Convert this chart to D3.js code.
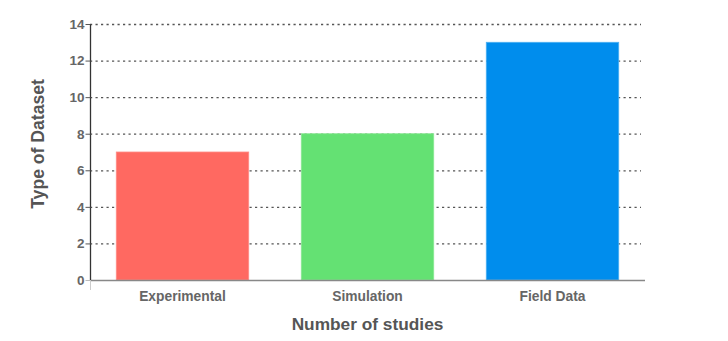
<!DOCTYPE html>
<html><head><meta charset="utf-8">
<script src="https://cdn.jsdelivr.net/npm/d3@7"></script>
<style>body{margin:0;background:#fff}svg{display:block}</style>
</head><body>
<svg id="c" width="728" height="341"></svg>
<script>
const categories = ["Experimental", "Simulation", "Field Data"];
const values = [7, 8, 13];
const colors = ["#ff6961", "#64e173", "#008ded"];
const strokes = ["#ff8c86", "#8be894", "#4cb0f2"];
const yTicks = [0, 2, 4, 6, 8, 10, 12, 14];

const svg = d3.select("#c");
const m = {left: 90, right: 83, top: 24, bottom: 61};
const W = 728, H = 341;
const FONT = "Liberation Sans, Arial, sans-serif";
const x = d3.scaleBand().domain(categories).range([m.left, W - m.right]).paddingInner(0.284).paddingOuter(0.142);
const y = d3.scaleLinear().domain([0, 14]).range([H - m.bottom, m.top]);

// gridlines
svg.append("g").selectAll("line").data(yTicks.filter(d => d > 0)).join("line")
  .attr("x1", m.left).attr("x2", W - m.right - 4)
  .attr("y1", d => y(d) + 0.5).attr("y2", d => y(d) + 0.5)
  .attr("stroke", "#555").attr("stroke-width", 1.3).attr("stroke-dasharray", "2.2,3.3");

// bars
svg.append("g").selectAll("rect").data(values).join("rect")
  .attr("x", (d, i) => x(categories[i]))
  .attr("y", d => y(d))
  .attr("width", x.bandwidth())
  .attr("height", d => y(0) - y(d))
  .attr("fill", (d, i) => colors[i])
  .attr("stroke", (d, i) => strokes[i]).attr("stroke-width", 0.8);

// x axis line
svg.append("line").attr("x1", m.left).attr("x2", W - m.right)
  .attr("y1", y(0) + 0.5).attr("y2", y(0) + 0.5)
  .attr("stroke", "#888").attr("stroke-width", 1.6);
svg.append("line").attr("x1", m.left + 0.5).attr("x2", m.left + 0.5)
  .attr("y1", y(0)).attr("y2", y(0) + 10).attr("stroke", "#ccc").attr("stroke-width", 1);

// y axis
const yAxis = d3.axisLeft(y).tickValues(yTicks).tickSize(5).tickPadding(1).tickFormat(d3.format("d"));
const gy = svg.append("g").attr("transform", `translate(${m.left + 0.5},0)`).call(yAxis);
gy.select(".domain").attr("stroke", "#333").attr("stroke-width", 1.3).attr("d", `M0,${y(14)}V${y(0)}`);
gy.selectAll(".tick line").attr("stroke", (d) => d === 0 ? "#bbb" : "#555");
gy.selectAll(".tick text").attr("fill", "#666").attr("font-family", FONT)
  .attr("font-size", 13.5).attr("font-weight", "bold");

// x labels
const xAxis = d3.axisBottom(x).tickSize(0).tickPadding(11);
const gx = svg.append("g").attr("transform", `translate(0,${y(0)})`).call(xAxis);
gx.select(".domain").remove();
gx.selectAll(".tick text").attr("fill", "#666").attr("font-family", FONT)
  .attr("font-size", 13.8).attr("font-weight", "bold");

// titles
svg.append("text").attr("x", (m.left + W - m.right) / 2).attr("y", 330)
  .attr("text-anchor", "middle").attr("fill", "#555")
  .attr("font-family", FONT).attr("font-size", 17.3).attr("font-weight", "bold")
  .text("Number of studies");
svg.append("text").attr("transform", `translate(44,144) rotate(-90)`)
  .attr("text-anchor", "middle").attr("fill", "#555")
  .attr("font-family", FONT).attr("font-size", 17.6).attr("font-weight", "bold")
  .text("Type of Dataset");
</script>
</body></html>
